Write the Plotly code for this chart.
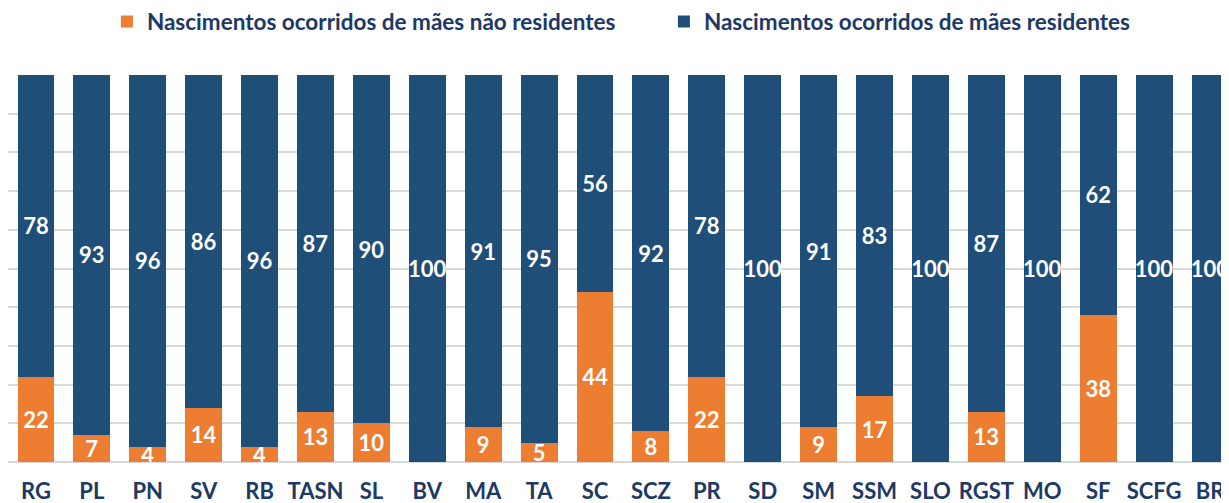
import plotly.graph_objects as go

categories = ["RG", "PL", "PN", "SV", "RB", "TASN", "SL", "BV", "MA", "TA", "SC",
              "SCZ", "PR", "SD", "SM", "SSM", "SLO", "RGST", "MO", "SF", "SCFG", "BR"]
nao_residentes = [22, 7, 4, 14, 4, 13, 10, 0, 9, 5, 44, 8, 22, 0, 9, 17, 0, 13, 0, 38, 0, 0]
residentes = [78, 93, 96, 86, 96, 87, 90, 100, 91, 95, 56, 92, 78, 100, 91, 83, 100, 87, 100, 62, 100, 100]

ORANGE = "#ED7D31"
BLUE = "#1F4E79"
TEXT = "#203864"
FONT = "Lato"

def labels(vals):
    return [str(v) if v > 0 else "" for v in vals]

fig = go.Figure()
fig.add_trace(go.Bar(
    x=categories, y=nao_residentes, name="Nascimentos ocorridos de mães não residentes",
    marker=dict(color=ORANGE, line=dict(width=0)),
    text=labels(nao_residentes), textposition="inside", insidetextanchor="middle",
    constraintext="none", textangle=0,
    textfont=dict(color="white", size=22, family=FONT, weight="bold"),
))
fig.add_trace(go.Bar(
    x=categories, y=residentes, name="Nascimentos ocorridos de mães residentes",
    marker=dict(color=BLUE, line=dict(width=0)),
    text=labels(residentes), textposition="inside", insidetextanchor="middle",
    constraintext="none", textangle=0,
    textfont=dict(color="white", size=22, family=FONT, weight="bold"),
))

fig.update_layout(
    barmode="stack",
    bargap=0.34,
    width=1221, height=495,
    margin=dict(l=0, r=0, t=67, b=41, pad=0, autoexpand=False),
    paper_bgcolor="white", plot_bgcolor="white",
    font=dict(family=FONT, color=TEXT),
    showlegend=True,
    legend=dict(
        orientation="h", x=0.081, y=1.137, xanchor="left", yanchor="middle",
        font=dict(size=22.5, color=TEXT, family=FONT, weight="bold"),
        entrywidth=512, entrywidthmode="pixels",
        itemwidth=30, traceorder="normal",
    ),
    xaxis=dict(
        range=[-0.5, 21.34], showgrid=False, showline=False, zeroline=False,
        tickfont=dict(size=22, color=TEXT, family=FONT, weight="bold"),
        ticks="", ticklabelstandoff=14,
    ),
    yaxis=dict(
        range=[0, 100], dtick=10, showgrid=True, gridcolor="#D9D9D9", gridwidth=1.5,
        showticklabels=False, zeroline=True, zerolinecolor="#D9D9D9", zerolinewidth=1.5,
        showline=False,
    ),
)

fig.write_html("out.html")
